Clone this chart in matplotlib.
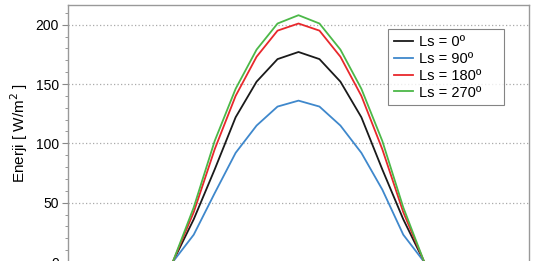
import matplotlib
matplotlib.use("Agg")
import matplotlib.pyplot as plt
from matplotlib.ticker import MultipleLocator

plt.rcParams['font.family'] = ['Liberation Sans', 'DejaVu Sans']

hours = [5, 6, 7, 8, 9, 10, 11, 12, 13, 14, 15, 16, 17, 18, 19]
ls0 = [0, 0, 36, 78, 122, 152, 171, 177, 171, 152, 122, 78, 36, 0, 0]
ls90 = [0, 0, 23, 58, 92, 115, 131, 136, 131, 115, 92, 61, 23, 0, 0]
ls180 = [0, 0, 42, 95, 140, 173, 195, 201, 195, 173, 140, 95, 42, 0, 0]
ls270 = [0, 0, 46, 102, 146, 179, 201, 208, 201, 179, 146, 102, 46, 0, 0]
labels = ["Ls = 0º", "Ls = 90º", "Ls = 180º", "Ls = 270º"]
colors = ["#1a1a1a", "#3f88cc", "#e8282c", "#4cb848"]
yticks = [0, 50, 100, 150, 200]

W, H = 533, 261
fig = plt.figure(figsize=(W / 100, H / 100), dpi=100)
ax = fig.add_axes([68 / W, (H - 262) / H, 461 / W, 257 / H])

for ys, lab, c in zip([ls0, ls90, ls180, ls270], labels, colors):
    ax.plot(hours, ys, color=c, lw=1.3, label=lab)

ax.set_xlim(1, 23)
ax.set_ylim(0, 216.6)
ax.set_yticks(yticks)
ax.yaxis.set_minor_locator(MultipleLocator(10))
ax.tick_params(axis='y', which='major', direction='out', length=4.5, width=0.8,
               color='#888888', labelsize=10, pad=2)
ax.tick_params(axis='y', which='minor', direction='out', length=2.2, width=0.6,
               color='#888888')
ax.tick_params(axis='x', bottom=False, labelbottom=False)
ax.grid(axis='y', which='major', linestyle=(0, (1, 1.8)), color='#aaaaaa', lw=0.9)
for s in ax.spines.values():
    s.set_color('#999999')
    s.set_linewidth(1.0)
ax.set_ylabel("Enerji [ W/m$^2$ ]", fontsize=11, labelpad=4)

lx0 = (388 - 68) / 461
lw_ = 116 / 461
ltop = (262 - 29) / 257
leg = ax.legend(loc='upper left', bbox_to_anchor=(lx0, ltop - 0.3, lw_, 0.3),
                mode='expand', fontsize=10.5, frameon=True, fancybox=False,
                handlelength=1.3, handletextpad=0.45, labelspacing=0.2,
                borderpad=0.4, borderaxespad=0)
leg.get_frame().set_edgecolor('#666666')
leg.get_frame().set_linewidth(0.8)

fig.savefig("out.png", dpi=100)
